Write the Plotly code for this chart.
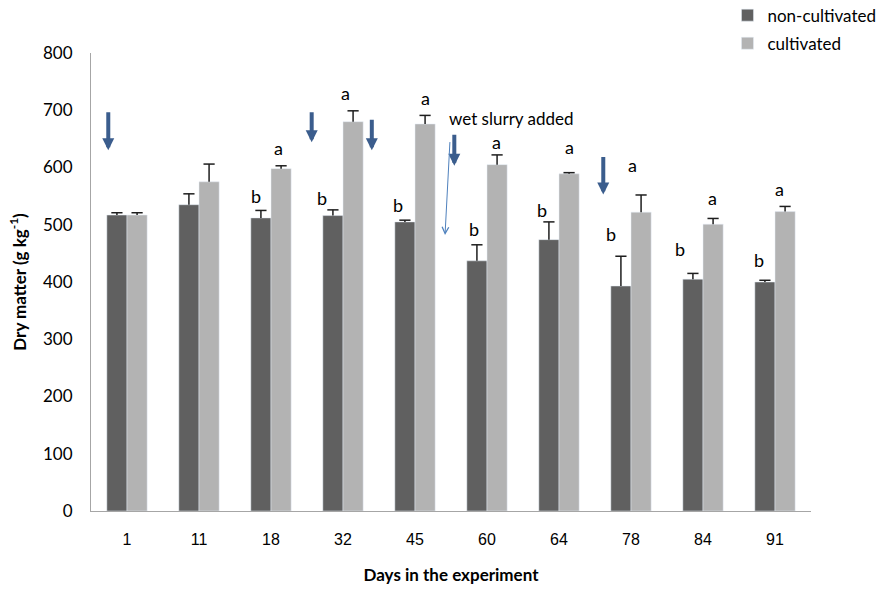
import plotly.graph_objects as go

# ---- data ----
days = ["1", "11", "18", "32", "45", "60", "64", "78", "84", "91"]
non_cultivated = [517, 535, 512, 516, 505, 437, 474, 393, 405, 400]
non_cultivated_err = [4, 19, 13, 10, 3, 28, 31, 52, 10, 3]
cultivated = [517, 575, 598, 680, 676, 605, 589, 522, 501, 523]
cultivated_err = [4, 31, 5, 19, 15, 17, 2, 30, 10, 9]

# significance letters (per day index) and their label placement
letters_b_idx = [2, 3, 4, 5, 6, 7, 8, 9]
letters_b_xoff = [-0.21, -0.29, -0.23, -0.18, -0.23, -0.28, -0.32, -0.22]
letters_b_y = [551, 547, 535, 493, 525, 483, 457, 438]
letters_a_idx = [2, 3, 4, 5, 6, 7, 8, 9]
letters_a_xoff = [0.11, 0.04, 0.15, 0.13, 0.15, 0.02, 0.13, 0.06]
letters_a_y = [634, 730, 721, 644, 635, 605, 546, 562]

# thick "slurry added" arrows: (x position on category axis, tail y, head y)
arrow_x = [-0.26, 2.565, 3.40, 4.546, 6.615]
arrow_tail = [699, 699, 686, 660, 621]
arrow_head = [630, 644, 630, 603, 553]

DARK = "#606060"
LIGHT = "#b3b3b3"
ERR = "#1e1e1e"
CAL = "Lato, 'Open Sans', sans-serif"

fig = go.Figure()
fig.add_trace(go.Bar(
    x=days, y=non_cultivated, name="non-cultivated", marker_color=DARK,
    offsetgroup="n", legendgroup="n",
    error_y=dict(type="data", symmetric=False, array=non_cultivated_err,
                 arrayminus=[0] * len(days), color=ERR, thickness=1.5, width=0),
))
fig.add_trace(go.Bar(
    x=days, y=cultivated, name="cultivated", marker_color=LIGHT,
    offsetgroup="c", legendgroup="c",
    error_y=dict(type="data", symmetric=False, array=cultivated_err,
                 arrayminus=[0] * len(days), color=ERR, thickness=1.5, width=0),
))
# caps of the error bars
fig.add_trace(go.Scatter(
    x=days, y=[v + e for v, e in zip(non_cultivated, non_cultivated_err)],
    mode="markers", offsetgroup="n", showlegend=False, hoverinfo="skip",
    marker=dict(symbol="line-ew", size=8, line=dict(color=ERR, width=1.5)),
))
fig.add_trace(go.Scatter(
    x=days, y=[v + e for v, e in zip(cultivated, cultivated_err)],
    mode="markers", offsetgroup="c", showlegend=False, hoverinfo="skip",
    marker=dict(symbol="line-ew", size=8, line=dict(color=ERR, width=1.5)),
))

ann = []
for i, xo, yy in zip(letters_b_idx, letters_b_xoff, letters_b_y):
    ann.append(dict(x=i + xo, y=yy, xref="x", yref="y", text="b", showarrow=False,
                    font=dict(family=CAL, size=18, color="#000")))
for i, xo, yy in zip(letters_a_idx, letters_a_xoff, letters_a_y):
    ann.append(dict(x=i + xo, y=yy, xref="x", yref="y", text="a", showarrow=False,
                    font=dict(family=CAL, size=18, color="#000")))
for xx, yt, yh in zip(arrow_x, arrow_tail, arrow_head):
    ann.append(dict(x=xx, y=yh, ax=xx, ay=yt, xref="x", yref="y", axref="x", ayref="y",
                    text="", showarrow=True, arrowhead=2, arrowsize=0.6, arrowwidth=4,
                    arrowcolor="#3b5d8d", standoff=0, startstandoff=0))
# thin arrow + label
ann.append(dict(x=4.417, y=482, ax=4.486, ay=647, xref="x", yref="y", axref="x", ayref="y",
                text="", showarrow=True, arrowhead=5, arrowsize=1.3, arrowwidth=1,
                arrowcolor="#4f81bd", standoff=0))
ann.append(dict(x=4.45, y=685, xref="x", yref="y", text="wet slurry added", showarrow=False,
                xanchor="left", font=dict(family=CAL, size=17, color="#000")))

fig.update_layout(
    width=881, height=590,
    margin=dict(l=91, r=70, t=53, b=79, autoexpand=False),
    paper_bgcolor="white", plot_bgcolor="white",
    barmode="group", bargap=0.44, bargroupgap=0,
    scattermode="group", scattergap=0.44,
    annotations=ann,
    showlegend=True,
    legend=dict(x=0.884, y=1.121, xanchor="left", yanchor="top",
                traceorder="grouped", tracegroupgap=3,
                font=dict(family=CAL, size=17, color="#000"),
                bgcolor="rgba(0,0,0,0)"),
    xaxis=dict(type="category", showline=True, linecolor="#a6a6a6", linewidth=1,
               ticks="", showgrid=False, ticklabelstandoff=14,
               tickfont=dict(family="'Liberation Sans', Arial, sans-serif", size=16, color="#000"),
               title=dict(text="<b>Days in the experiment</b>", standoff=21,
                          font=dict(family=CAL, size=17, color="#000"))),
    yaxis=dict(range=[0, 800], dtick=100, showline=True, linecolor="#a6a6a6", linewidth=1,
               ticks="", showgrid=False, zeroline=False, ticklabelstandoff=14,
               tickfont=dict(family=CAL, size=17, color="#000"),
               title=dict(text="<b>Dry matter (g kg<sup>-1</sup>)</b>", standoff=12,
                          font=dict(family=CAL, size=17, color="#000"))),
)

fig.write_html("out.html", config={"displayModeBar": False},
               post_script="document.body.style.margin='0';document.body.style.overflow='hidden';")
